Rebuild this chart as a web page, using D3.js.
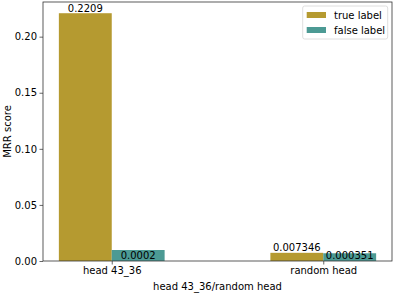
<!DOCTYPE html>
<html><head><meta charset="utf-8">
<script src="https://cdn.jsdelivr.net/npm/d3@7"></script>
<style>body{margin:0;background:#fff}svg{display:block}text{font-family:"DejaVu Sans",sans-serif;fill:#000}</style>
</head><body>
<svg id="c" width="395" height="293"></svg>
<script>
const categories = ["head 43_36", "random head"];
const seriesNames = ["true label", "false label"];
const trueValues = [0.2209, 0.0073];
const falseValues = [0.0098, 0.0069];
const trueLabels = ["0.2209", "0.007346"];
const falseLabels = ["0.0002", "0.000351"];
const falseLabelValues = [0.0002, 0.000351];
const yTicks = [0.00, 0.05, 0.10, 0.15, 0.20];
const colors = ["#b59a30", "#4c9a94"];

const svg = d3.select("#c");
const L = 43, R = 392, T = 2, B = 261;
const fs = 10;
const x = d3.scaleLinear().domain([-0.325, 1.325]).range([L, R]);
const y = d3.scaleLinear().domain([0, 0.2309]).range([B, T]);
const bw = 0.25;

const g = svg.append("g");
categories.forEach((c, i) => {
  g.append("rect").attr("x", x(i - bw)).attr("width", x(i) - x(i - bw))
    .attr("y", y(trueValues[i])).attr("height", y(0) - y(trueValues[i])).attr("fill", colors[0]);
  g.append("rect").attr("x", x(i)).attr("width", x(i + bw) - x(i))
    .attr("y", y(falseValues[i])).attr("height", y(0) - y(falseValues[i])).attr("fill", colors[1]);
  g.append("text").attr("x", x(i - bw / 2)).attr("y", y(trueValues[i]) - 1.5)
    .attr("text-anchor", "middle").attr("font-size", fs).text(trueLabels[i]);
  g.append("text").attr("x", x(i + bw / 2)).attr("y", y(falseLabelValues[i]) - 1.5)
    .attr("text-anchor", "middle").attr("font-size", fs).text(falseLabels[i]);
});

const yAxis = d3.axisLeft(y).tickValues(yTicks).tickFormat(d3.format(".2f")).tickSize(3.5).tickPadding(2.5);
const ya = svg.append("g").attr("transform", `translate(${L},0)`).call(yAxis);
ya.select(".domain").remove();
ya.selectAll("text").attr("font-size", fs).style("font-family", '"DejaVu Sans"');
ya.selectAll("line").attr("stroke", "#000").attr("stroke-width", 0.6);

const xAxis = d3.axisBottom(x).tickValues([0, 1]).tickFormat((d) => categories[d]).tickSize(3.5).tickPadding(2.5);
const xa = svg.append("g").attr("transform", `translate(0,${B})`).call(xAxis);
xa.select(".domain").remove();
xa.selectAll("text").attr("font-size", fs).style("font-family", '"DejaVu Sans"');
xa.selectAll("line").attr("stroke", "#000").attr("stroke-width", 0.6);

svg.append("rect").attr("x", L).attr("y", T).attr("width", R - L).attr("height", B - T)
  .attr("fill", "none").attr("stroke", "#333").attr("stroke-width", 0.8);

svg.append("text").attr("x", (L + R) / 2).attr("y", 290).attr("text-anchor", "middle")
  .attr("font-size", fs).text("head 43_36/random head");
svg.append("text").attr("transform", `translate(11,${(T + B) / 2}) rotate(-90)`)
  .attr("text-anchor", "middle").attr("font-size", fs).text("MRR score");

const lg = svg.append("g");
lg.append("rect").attr("x", 302.7).attr("y", 6).attr("width", 85).attr("height", 33).attr("rx", 2)
  .attr("fill", "#fff").attr("fill-opacity", 0.8).attr("stroke", "#d6d6d6").attr("stroke-width", 0.8);
seriesNames.forEach((s, i) => {
  const cy = 15 + i * 15;
  lg.append("rect").attr("x", 306.7).attr("y", cy - 3).attr("width", 19.3).attr("height", 6).attr("fill", colors[i]);
  lg.append("text").attr("x", 334).attr("y", cy + 3.5).attr("font-size", fs).text(s);
});
</script>
</body></html>
